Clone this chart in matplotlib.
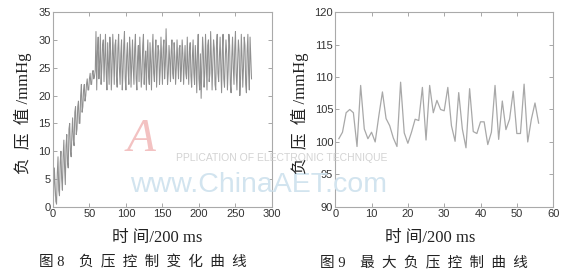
import numpy as np
import matplotlib
matplotlib.use("Agg")
import matplotlib.pyplot as plt

# fig 8: negative pressure control curve (samples every 200 ms)
ramp = [2, 7, 4, 1, 0.5, 6, 9, 3, 2, 8,
        10, 5, 3, 9, 12, 7, 4, 11, 13, 8,
        7, 14, 15, 10, 9, 13, 16, 12, 11, 17,
        18, 13, 14, 18, 19, 15, 15, 20, 22, 17,
        18, 21, 22, 19, 20, 22, 23, 21, 21, 23,
        24, 22, 22, 24, 24.5, 23, 23.5, 24.5]
plateau = [31.5, 21, 28, 30.5, 23, 26, 31, 22, 25, 29,
           30, 22.5, 27, 31, 24, 21, 29.5, 26, 22, 30.5,
           28, 21, 25, 31, 27, 22, 29, 30, 23.5, 21.5,
           28.5, 31, 25, 22, 27.5, 30, 21, 24, 29, 31.5,
           23, 21, 27, 29.5, 24.5, 22, 30.5, 28, 21.5, 26,
           30, 25, 22, 28.5, 31, 23, 21, 27, 29, 22.5,
           30.5, 26.5, 21.5, 24, 29, 31, 22, 25.5, 28, 21,
           27, 30, 23.5, 22, 29.5, 26, 21, 28, 31, 24,
           22.5, 27.5, 30, 21.5, 25, 29, 28, 22, 24.5, 30.5,
           26, 22, 28.5, 30, 23, 25.5, 32, 27, 22, 24,
           29, 26.5, 22.5, 28, 30, 24, 23, 29.5, 27, 22,
           25, 30, 26, 23, 28.5, 29, 22.5, 24.5, 30, 27.5,
           22, 26, 29, 24, 23, 30.5, 25.5, 22, 28, 29.5,
           23.5, 21.5, 27, 30, 24, 22, 29, 26, 20.5, 28,
           31, 23, 21, 27.5, 19.5, 25, 30.5, 28, 21.5, 24,
           31, 26, 21, 29, 30, 22.5, 24, 31.5, 27, 21,
           25.5, 30, 28.5, 22, 21, 29, 31, 24, 22.5, 27,
           30.5, 25, 20.5, 28, 31, 23, 21.5, 26.5, 30, 27.5,
           21, 24.5, 31, 29, 22, 20.5, 27, 30.5, 25, 22,
           28.5, 31.5, 24, 21, 26, 30, 28, 20, 23, 31,
           27, 21.5, 25, 30.5, 29, 22, 20.5, 28, 31, 24,
           21, 30.5, 27, 23]
pressure = ramp + plateau

# fig 9: maximum negative pressure control curve
max_pressure = [100.5, 101.5, 104.5, 105, 104.5, 99.3, 108.7, 102, 100.5, 101.5,
                100, 104, 107.7, 103.6, 102.5, 100.6, 99.3, 109.2, 101.4, 99.8,
                101.5, 103.5, 103.3, 108.4, 100.3, 108.7, 104.5, 106.4, 105, 104.8,
                108.4, 102.5, 100.1, 107.6, 102, 99.1, 108.2, 101.6, 101.3, 103.1,
                103.1, 99.6, 101.5, 108.7, 100.4, 106.3, 101.9, 103.5, 107.8, 101.3,
                101.3, 108.9, 100.0, 103.5, 106.0, 102.9]

left_xticks = [0, 50, 100, 150, 200, 250, 300]
left_yticks = [0, 5, 10, 15, 20, 25, 30, 35]
right_xticks = [0, 10, 20, 30, 40, 50, 60]
right_yticks = [90, 95, 100, 105, 110, 115, 120]

cjk = ["Liberation Serif", "Noto Sans CJK SC"]
plt.rcParams["font.family"] = ["Liberation Sans", "DejaVu Sans"]

fig = plt.figure(figsize=(5.75, 2.8), dpi=100)
ax1 = fig.add_axes([0.092, 0.261, 0.381, 0.696])
ax2 = fig.add_axes([0.583, 0.261, 0.379, 0.696])


def style(ax, xt, yt):
    ax.set_xlim(xt[0], xt[-1])
    ax.set_ylim(yt[0], yt[-1])
    ax.set_xticks(xt)
    ax.set_yticks(yt)
    ax.tick_params(direction="in", length=3, width=0.6, labelsize=8,
                   top=True, right=True, colors="#999999",
                   labelcolor="#333333", pad=1.5)
    for sp in ax.spines.values():
        sp.set_color("#aaaaaa")
        sp.set_linewidth(0.8)


ax1.plot(np.arange(1, len(pressure) + 1), pressure, color="#909090", lw=0.75)
style(ax1, left_xticks, left_yticks)

ax2.plot(np.arange(1, len(max_pressure) + 1), max_pressure,
         color="#a8a8a8", lw=0.9)
style(ax2, right_xticks, right_yticks)

# watermark
fig.text(0.245, 0.5, "A", color="#f3c2c2", fontsize=34, style="italic",
         family="Liberation Serif", ha="center", va="center", zorder=0)
fig.text(0.49, 0.435, "PPLICATION OF ELECTRONIC TECHNIQUE", color="#c8c8c8",
         fontsize=7.5, ha="center", va="center", alpha=0.8)
fig.text(0.449, 0.34, "www.ChinaAET.com", color="#d2e4ef",
         fontsize=20.5, ha="center", va="center")

# axis labels
for xc, yc in [(0.040, 0.596), (0.522, 0.596)]:
    fig.text(xc, yc, "负  压  值 /mmHg", family=cjk, fontsize=12,
             rotation=90, ha="center", va="center", color="#222222")
fig.text(0.273, 0.151, "时 间/200 ms", family=cjk, fontsize=12,
         ha="center", va="center", color="#222222")
fig.text(0.748, 0.151, "时 间/200 ms", family=cjk, fontsize=12,
         ha="center", va="center", color="#222222")

# captions
fig.text(0.249, 0.064, "图 8    负  压  控  制  变  化  曲  线", family=cjk,
         fontsize=10.5, ha="center", va="center", color="#222222")
fig.text(0.737, 0.064, "图 9    最  大  负  压  控  制  曲  线", family=cjk,
         fontsize=10.5, ha="center", va="center", color="#222222")

fig.savefig("out.png", dpi=100)
